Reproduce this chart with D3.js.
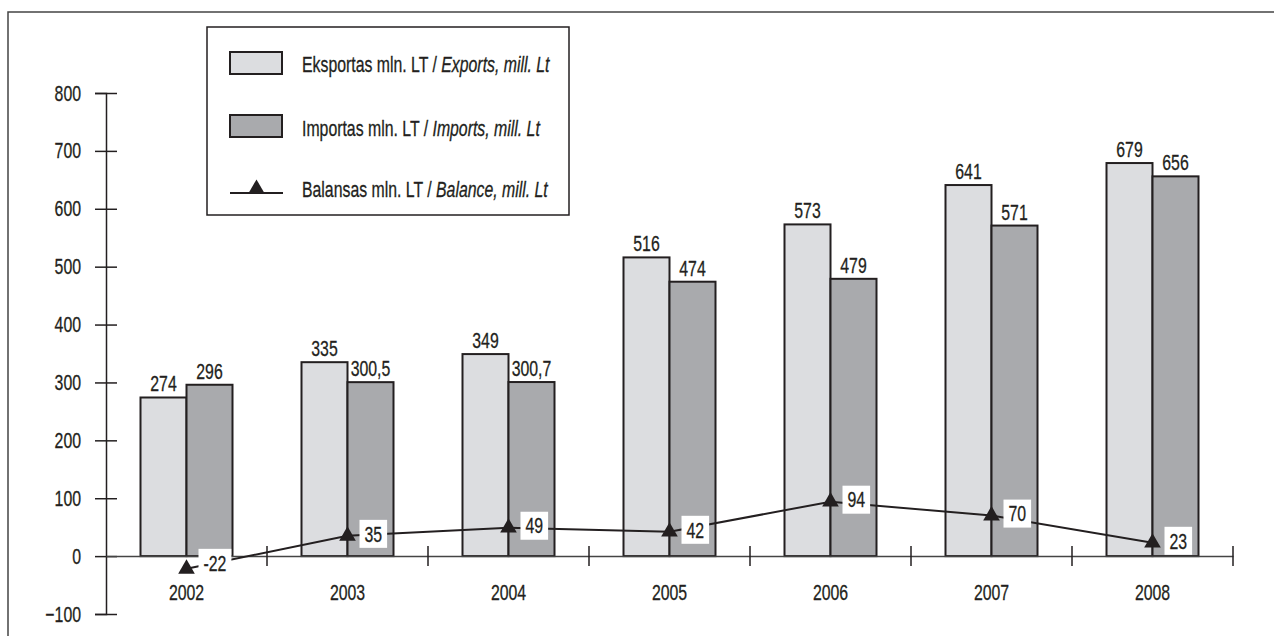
<!DOCTYPE html>
<html>
<head>
<meta charset="utf-8">
<script src="https://cdn.jsdelivr.net/npm/d3@7"></script>
<style>
  body { margin: 0; background: #fff; }
  svg text { font-family: "Liberation Sans", Arial, sans-serif; fill: #231f20; stroke: #231f20; stroke-width: 0.3px; }
</style>
</head>
<body>
<svg id="chart" width="1274" height="636"></svg>
<script>
// data
const years = ["2002", "2003", "2004", "2005", "2006", "2007", "2008"];
const exportsVal = [274, 335, 349, 516, 573, 641, 679];
const importsVal = [296, 300.5, 300.7, 474, 479, 571, 656];
const balanceVal = [-22, 35, 49, 42, 94, 70, 23];
const yTicks = [-100, 0, 100, 200, 300, 400, 500, 600, 700, 800];
const legendLabels = [
  ["Eksportas mln. LT / ", "Exports, mill. Lt"],
  ["Importas mln. LT / ", "Imports, mill. Lt"],
  ["Balansas mln. LT / ", "Balance, mill. Lt"]
];

const ink = "#231f20";
const fillExp = "#dcdde0";
const fillImp = "#a9aaad";
const fs = "22px";
const squeeze = 0.72; // no condensed font installed, so squeeze text sideways
const fmt = v => String(v).replace(".", ",");

function narrow(sel) {
  sel.each(function() {
    const t = d3.select(this);
    const tx = +t.attr("x") || 0, ty = +t.attr("y") || 0;
    t.attr("transform", `translate(${tx},${ty}) scale(${squeeze},1) translate(${-tx},${-ty})`);
  });
}

const svg = d3.select("#chart");

// outer frame
svg.append("rect")
  .attr("x", 8).attr("y", 12)
  .attr("width", 1300).attr("height", 700)
  .attr("fill", "none").attr("stroke", "#444").attr("stroke-width", 1.5);

const x = d3.scaleBand().domain(years).range([106, 1233]);
const y = d3.scaleLinear().domain([-100, 800]).range([614, 93]);
const bw = 46;
const cx = d => x(d) + x.bandwidth() / 2;

// bars
const g = svg.append("g");
g.selectAll("rect.exp")
  .data(years)
  .enter().append("rect")
  .attr("class", "exp")
  .attr("x", d => cx(d) - bw)
  .attr("y", (d, i) => y(exportsVal[i]))
  .attr("width", bw)
  .attr("height", (d, i) => y(0) - y(exportsVal[i]))
  .attr("fill", fillExp).attr("stroke", ink).attr("stroke-width", 2);

g.selectAll("rect.imp")
  .data(years)
  .enter().append("rect")
  .attr("class", "imp")
  .attr("x", d => cx(d))
  .attr("y", (d, i) => y(importsVal[i]))
  .attr("width", bw)
  .attr("height", (d, i) => y(0) - y(importsVal[i]))
  .attr("fill", fillImp).attr("stroke", ink).attr("stroke-width", 2);

// bar value labels
g.selectAll("text.expl")
  .data(years)
  .enter().append("text")
  .attr("x", d => cx(d) - bw / 2)
  .attr("y", (d, i) => y(exportsVal[i]) - 6)
  .attr("text-anchor", "middle")
  .style("font-size", fs)
  .text((d, i) => fmt(exportsVal[i]))
  .call(narrow);

g.selectAll("text.impl")
  .data(years)
  .enter().append("text")
  .attr("x", d => cx(d) + bw / 2)
  .attr("y", (d, i) => y(importsVal[i]) - 6)
  .attr("text-anchor", "middle")
  .style("font-size", fs)
  .text((d, i) => fmt(importsVal[i]))
  .call(narrow);

// y axis
const yAxis = svg.append("g")
  .attr("transform", "translate(106,0)")
  .call(d3.axisLeft(y).tickValues(yTicks).tickSize(11).tickPadding(14));
yAxis.attr("font-family", null).attr("font-size", null);
yAxis.select(".domain").attr("stroke", ink).attr("stroke-width", 1.5);
yAxis.selectAll(".tick line").attr("x1", 11).attr("x2", -11).attr("stroke", ink).attr("stroke-width", 1.5);
yAxis.selectAll(".tick text")
  .attr("x", -25).attr("y", 0)
  .style("font-size", fs).attr("fill", ink)
  .call(narrow);

// x axis
const xAxis = svg.append("g")
  .attr("transform", `translate(0,${y(0)})`)
  .call(d3.axisBottom(x).tickSize(0));
xAxis.attr("font-family", null).attr("font-size", null);
xAxis.select(".domain").attr("stroke", "#444").attr("stroke-width", 1.5);
xAxis.selectAll(".tick text")
  .attr("x", 0).attr("y", 36).attr("dy", "0.35em")
  .style("font-size", fs).attr("fill", ink)
  .call(narrow);

const bounds = years.slice(1).map(d => x(d)).concat([x.range()[1]]);
xAxis.selectAll("line.sep")
  .data(bounds)
  .enter().append("line")
  .attr("class", "sep")
  .attr("x1", d => d).attr("x2", d => d)
  .attr("y1", -10).attr("y2", 10)
  .attr("stroke", ink).attr("stroke-width", 1.5);

// balance line
const line = d3.line()
  .x((d, i) => cx(years[i]))
  .y(d => y(d));
svg.append("path")
  .datum(balanceVal)
  .attr("d", line)
  .attr("fill", "none").attr("stroke", ink).attr("stroke-width", 2);

const tri = d3.symbol().type(d3.symbolTriangle).size(120);
svg.selectAll("path.mark")
  .data(balanceVal)
  .enter().append("path")
  .attr("class", "mark")
  .attr("d", tri)
  .attr("transform", (d, i) => `translate(${cx(years[i])},${y(d)})`)
  .attr("fill", ink);

// balance labels in white boxes
const bl = svg.selectAll("g.bl")
  .data(balanceVal)
  .enter().append("g")
  .attr("class", "bl")
  .attr("transform", (d, i) => `translate(${cx(years[i]) + 12},${y(d) - (d < 0 ? 6 : 2)})`);
bl.append("rect")
  .attr("y", -14).attr("height", 28)
  .attr("fill", "#fff");
bl.append("text")
  .attr("x", 5).attr("y", 0).attr("dy", "0.35em")
  .style("font-size", fs)
  .text(d => fmt(d))
  .call(narrow);
bl.each(function() {
  const w = d3.select(this).select("text").node().getComputedTextLength() * squeeze;
  d3.select(this).select("rect").attr("width", w + 10);
});

// legend
const lg = svg.append("g");
lg.append("rect")
  .attr("x", 207).attr("y", 27)
  .attr("width", 362).attr("height", 188)
  .attr("fill", "#fff").attr("stroke", ink).attr("stroke-width", 1.5);

const rowY = [64, 128, 189];
lg.append("rect").attr("x", 230).attr("y", 52).attr("width", 52).attr("height", 22)
  .attr("fill", fillExp).attr("stroke", ink).attr("stroke-width", 2);
lg.append("rect").attr("x", 230).attr("y", 115).attr("width", 52).attr("height", 22)
  .attr("fill", fillImp).attr("stroke", ink).attr("stroke-width", 2);
lg.append("line").attr("x1", 230).attr("x2", 283).attr("y1", 193).attr("y2", 193)
  .attr("stroke", ink).attr("stroke-width", 2);
lg.append("path").attr("d", tri).attr("transform", "translate(256.5,189)").attr("fill", ink);

const lt = lg.selectAll("text.lg")
  .data(legendLabels)
  .enter().append("text")
  .attr("x", 302)
  .attr("y", (d, i) => rowY[i])
  .attr("dy", "0.35em")
  .style("font-size", fs);
lt.append("tspan").text(d => d[0]);
lt.append("tspan").style("font-style", "italic").text(d => d[1]);
lt.call(narrow);
</script>
</body>
</html>
